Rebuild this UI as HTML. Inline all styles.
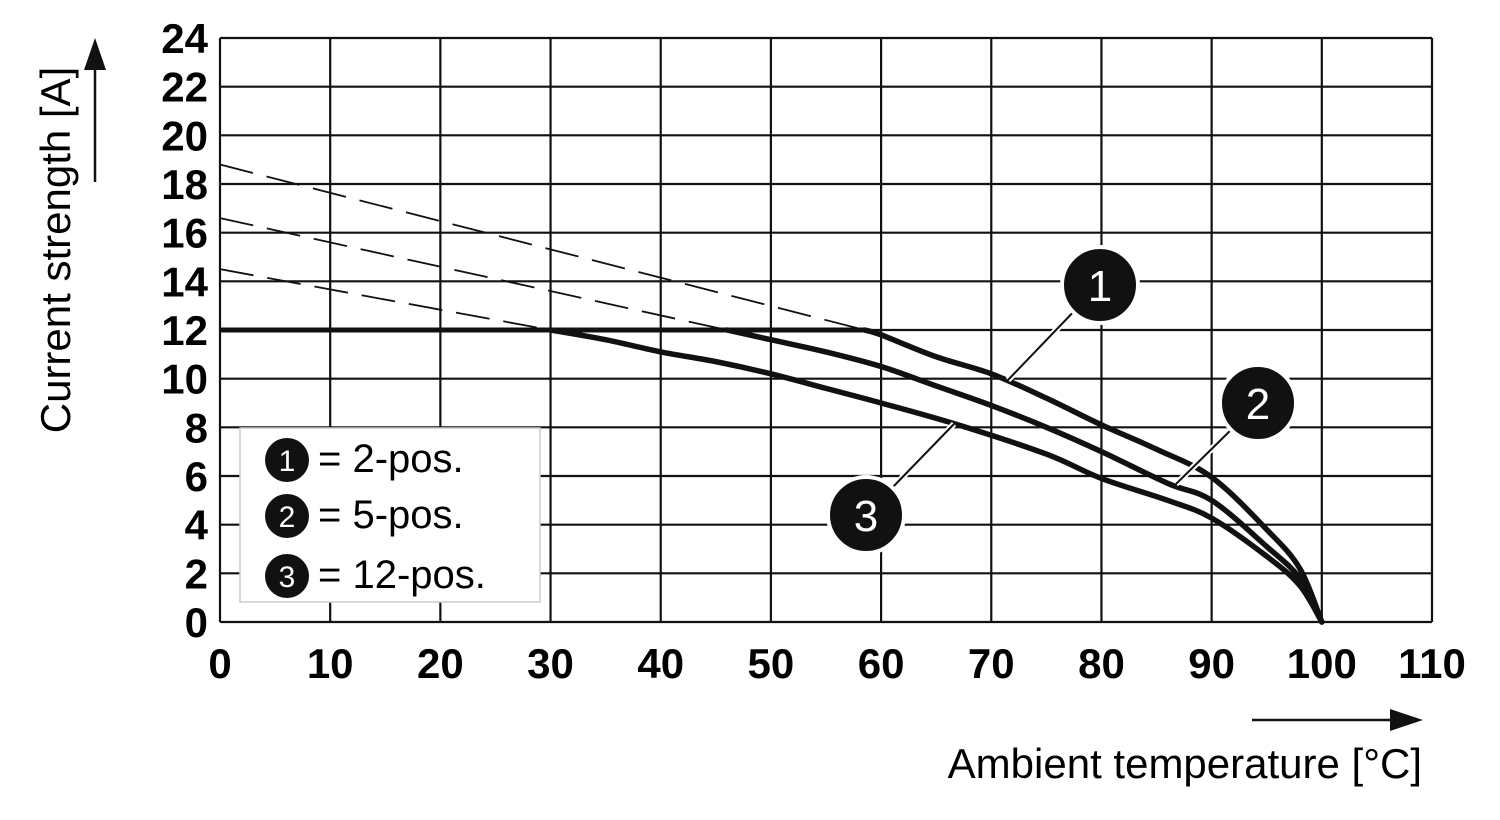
<!DOCTYPE html>
<html><head><meta charset="utf-8"><style>
body{margin:0;background:#fff}
svg{display:block;font-family:"Liberation Sans",sans-serif}
</style></head><body>
<svg width="1500" height="820" viewBox="0 0 1500 820">
<g id="grid"></g>
<g id="ticks"></g>
<g id="series"></g>
<g>
<rect x="240" y="428" width="300" height="174" fill="#fff" stroke="#ccc" stroke-width="1.5"/>
<g><circle cx="287" cy="460" r="22" fill="#111"/><text x="287" y="471" fill="#fff" font-size="30" text-anchor="middle">1</text><text x="318" y="472" font-size="40">= 2-pos.</text></g>
<g><circle cx="287" cy="516" r="22" fill="#111"/><text x="287" y="527" fill="#fff" font-size="30" text-anchor="middle">2</text><text x="318" y="528" font-size="40">= 5-pos.</text></g>
<g><circle cx="287" cy="576" r="22" fill="#111"/><text x="287" y="587" fill="#fff" font-size="30" text-anchor="middle">3</text><text x="318" y="588" font-size="40">= 12-pos.</text></g>
</g>
<g>
<line x1="1008" y1="380" x2="1080" y2="305" stroke="#fff" stroke-width="6"/><line x1="1008" y1="380" x2="1080" y2="305" stroke="#111" stroke-width="2"/>
<circle cx="1100" cy="285" r="38" fill="#111" stroke="#fff" stroke-width="4"/><text x="1100" y="301" fill="#fff" font-size="44" text-anchor="middle">1</text>
<line x1="1176" y1="484" x2="1236" y2="425" stroke="#fff" stroke-width="6"/><line x1="1176" y1="484" x2="1236" y2="425" stroke="#111" stroke-width="2"/>
<circle cx="1258" cy="403" r="38" fill="#111" stroke="#fff" stroke-width="4"/><text x="1258" y="419" fill="#fff" font-size="44" text-anchor="middle">2</text>
<line x1="954" y1="424" x2="890" y2="490" stroke="#fff" stroke-width="6"/><line x1="954" y1="424" x2="890" y2="490" stroke="#111" stroke-width="2"/>
<circle cx="866" cy="515" r="38" fill="#111" stroke="#fff" stroke-width="4"/><text x="866" y="531" fill="#fff" font-size="44" text-anchor="middle">3</text>
</g>
<text transform="translate(70,250) rotate(-90)" font-size="42" text-anchor="middle">Current strength [A]</text>
<g><line x1="95" y1="182" x2="95" y2="65" stroke="#111" stroke-width="2.5"/><polygon points="95,38 84,70 106,70" fill="#111"/></g>
<text x="1422" y="778" font-size="42" text-anchor="end">Ambient temperature [°C]</text>
<g><line x1="1252" y1="720" x2="1395" y2="720" stroke="#111" stroke-width="2.5"/><polygon points="1423,720 1390,709 1390,731" fill="#111"/></g>
</svg>
<script>
const xTicks=[0,10,20,30,40,50,60,70,80,90,100,110];
const yTicks=[0,2,4,6,8,10,12,14,16,18,20,22,24];
const s1T=[58.5,60,65,70,75,80,85,90,95,98,100];
const s1I=[12,11.8,10.9,10.2,9.2,8.1,7.1,5.95,3.8,2.2,0];
const s2T=[46,50,55,60,65,70,75,80,86,90,95,98,100];
const s2I=[12,11.6,11.1,10.5,9.7,8.9,8.0,7.0,5.7,5.0,3.1,1.8,0];
const s3T=[30,35,40,45,50,55,60,67,75,80,86,90,95,98,100];
const s3I=[12,11.6,11.1,10.7,10.2,9.6,9.0,8.1,6.9,5.9,5.0,4.27,2.7,1.5,0];
const dashStart=[18.8,16.6,14.5];
const dashEnd=[[58.5,12],[46,12],[30,12]];
const plateau=[0,12,58.5];
const X=v=>220+v*(1432-220)/110, Y=v=>622-v*(622-38)/24;
const NS='http://www.w3.org/2000/svg';
function mk(tag,attrs,parent){const e=document.createElementNS(NS,tag);for(const k in attrs)e.setAttribute(k,attrs[k]);parent.appendChild(e);return e;}
const grid=document.getElementById('grid'),ticks=document.getElementById('ticks'),series=document.getElementById('series');
xTicks.forEach(t=>{const l=mk('line',{x1:X(t),x2:X(t),y1:Y(24),y2:Y(0),stroke:'#111','stroke-width':2.2},grid);


const tx=mk('text',{x:X(t),y:678,'font-size':42,'font-weight':'bold','text-anchor':'middle'},ticks);tx.textContent=t;

});
yTicks.forEach(t=>{const l=mk('line',{x1:X(0),x2:X(110),y1:Y(t),y2:Y(t),stroke:'#111','stroke-width':2.2},grid);


const tx=mk('text',{x:208,y:Y(t)+15,'font-size':42,'font-weight':'bold','text-anchor':'end'},ticks);tx.textContent=t;

});
dashStart.forEach((v,i)=>{const l=mk('line',{x1:X(0),y1:Y(v),x2:X(dashEnd[i][0]),y2:Y(dashEnd[i][1]),stroke:'#111','stroke-width':1.8,'stroke-dasharray':'34,14'},series);

});
const pl=mk('line',{x1:X(plateau[0]),y1:Y(plateau[1]),x2:X(plateau[2]),y2:Y(plateau[1]),stroke:'#111','stroke-width':5},series);


function path(T,I){const p=T.map((t,i)=>[X(t),Y(I[i])]);let d='M'+p[0][0]+','+p[0][1];
for(let i=0;i<p.length-1;i++){const p0=p[i-1]||p[i],p1=p[i],p2=p[i+1],p3=p[i+2]||p2;
d+=' C'+(p1[0]+(p2[0]-p0[0])/6)+','+(p1[1]+(p2[1]-p0[1])/6)+' '+(p2[0]-(p3[0]-p1[0])/6)+','+(p2[1]-(p3[1]-p1[1])/6)+' '+p2[0]+','+p2[1];}return d;}
[[s1T,s1I],[s2T,s2I],[s3T,s3I]].forEach((s,i)=>{const e=mk('path',{d:path(s[0],s[1]),fill:'none',stroke:'#111','stroke-width':5.5,'stroke-linecap':'round'},series);

});
</script>
</body></html>
